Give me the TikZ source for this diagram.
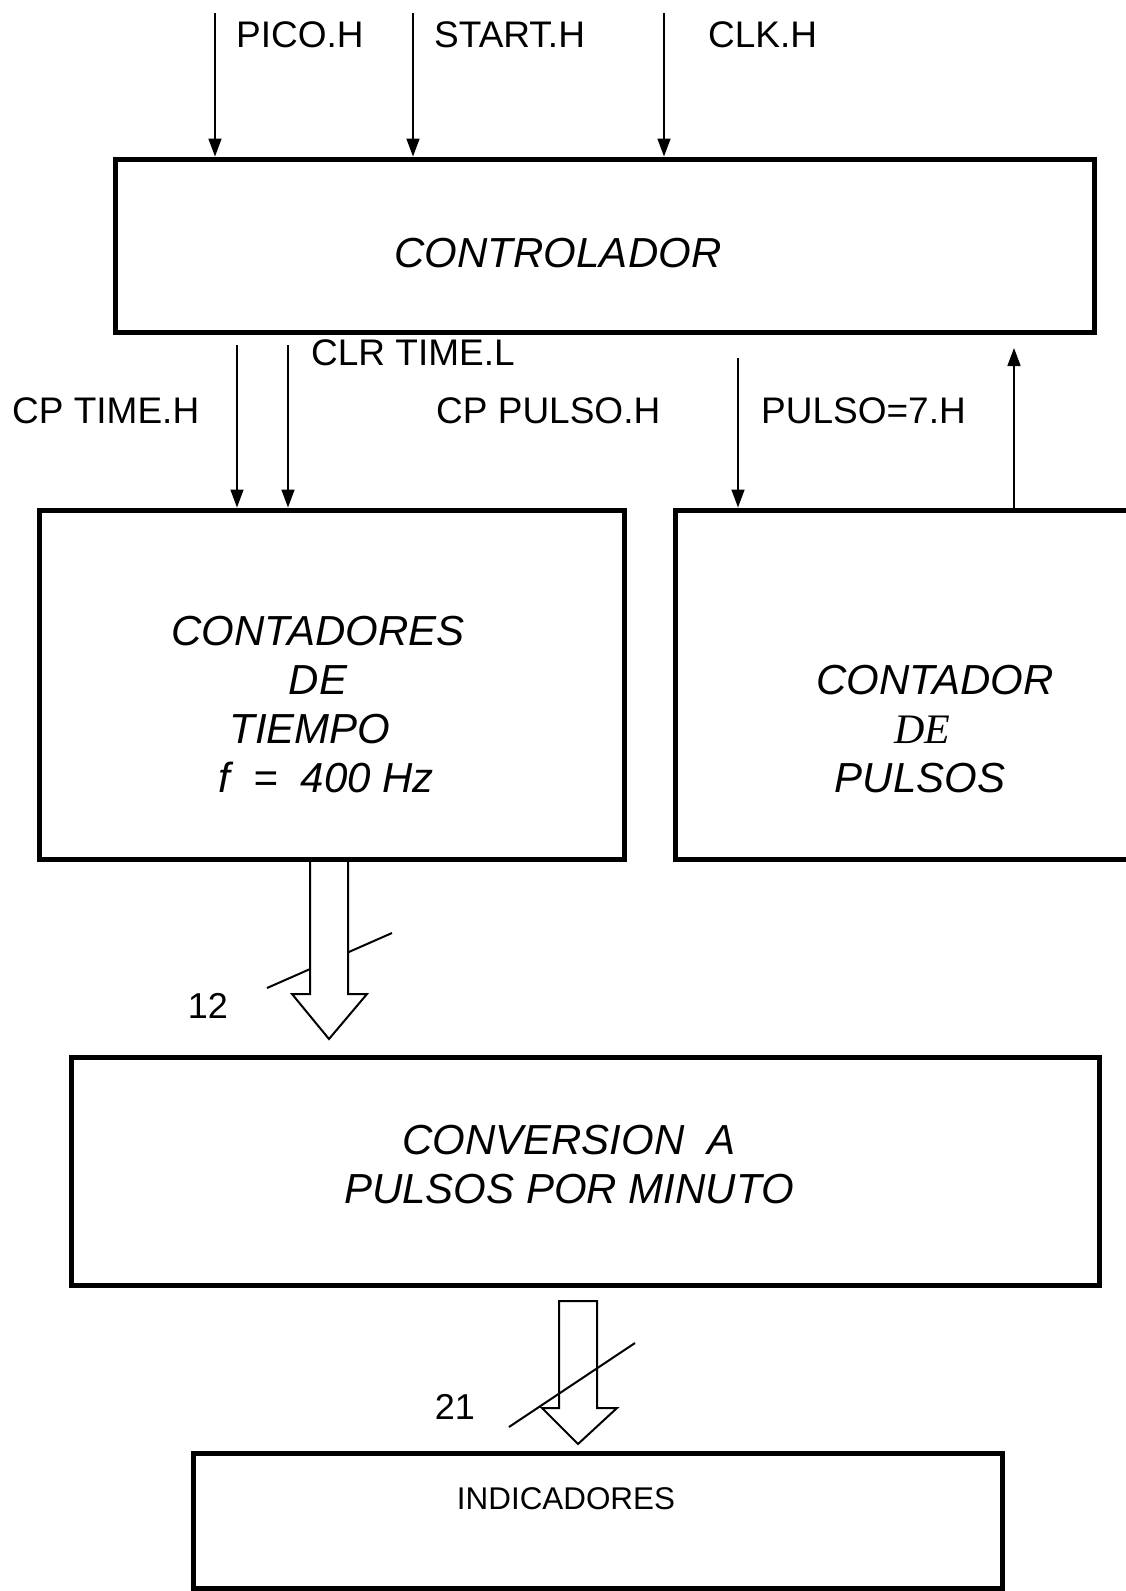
\documentclass[tikz,border=0pt]{standalone}
\usepackage{fontspec}
\setmainfont{Liberation Sans}
\newfontfamily\deserif{Liberation Serif}
\usetikzlibrary{positioning, arrows.meta}
\tikzset{
>={Triangle[length=18pt, width=13pt]}, % filled arrow heads
block/.style={draw, line width=5pt, inner sep=0pt}, % thick boxes
signal/.style={->, line width=1.6pt}, % thin signal lines
sig/.style={font=\fontsize{37}{44}\selectfont, inner sep=0pt, anchor=west}, % signal names
title/.style={font=\fontsize{42}{49}\selectfont\itshape, align=center, inner sep=0pt}, % text in the boxes
bus/.style={draw, fill=white, line width=2pt}, % hollow bus arrows
slash/.style={line width=2pt}, % bus width marks
}

\begin{document}
\begin{tikzpicture}[x=1pt, y=-1pt]
\useasboundingbox (0,0) rectangle (1126,1591);

            % bus arrows first, the boxes go over them
            \draw[slash] (267,988) -- (392,933);
            \draw[bus] (310,861.5) -- ++(0,132.5) -- ++(-18,0) -- ++(37,45) -- ++(38,-45) -- ++(-19,0) -- ++(0,-132.5);
            \draw[bus] (559,1301) -- ++(0,107) -- ++(-17,0) -- ++(36,36) -- ++(39,-36) -- ++(-20,0) -- ++(0,-107) -- cycle;
            \draw[slash] (509,1427) -- (635,1343);

            \node[block, minimum width=979pt, minimum height=173pt] (ctrl) at (604.5,245.5) {};
            \node[block, minimum width=585pt, minimum height=349pt] (tiempo) at (331.5,684.5) {};
            \node[block, minimum width=465pt, minimum height=349pt] (pulsos) at (907.5,684.5) {};
            \node[block, minimum width=1028pt, minimum height=228pt] (conv) at (585,1171) {};
            \node[block, minimum width=809pt, minimum height=135pt] (ind) at (597.5,1520.5) {};

            \node[title] (ctrltxt) at (558,253) {CONTROLADOR};
            \node[title] (tiempotxt) at (318,705) {CONTADORES\\DE\\\hspace*{-16pt}TIEMPO\\\hspace*{16pt}f~~=~~400 Hz};
            \node[title] (pulsostxt) at (935,729.5) {CONTADOR\\\hspace*{-26pt}{\deserif\itshape DE}\\\hspace*{-30pt}PULSOS};
            \node[title] (convtxt) at (569,1164.5) {CONVERSION~~A\\PULSOS POR MINUTO};
            \node[inner sep=0pt, font=\fontsize{31.4}{38}\selectfont] (indtxt) at (566,1499) {INDICADORES};

            % inputs of the controller
            \coordinate (pico) at (215,13);
            \coordinate (start) at (413,13);
            \coordinate (clk) at (664,13);
            \draw[signal] (pico) -- (pico |- ctrl.north);
            \draw[signal] (start) -- (start |- ctrl.north);
            \draw[signal] (clk) -- (clk |- ctrl.north);
            \node[sig] (picolbl) at (236,35) {PICO.H};
            \node[sig] (startlbl) at (434,35) {START.H};
            \node[sig] (clklbl) at (708,35) {CLK.H};

            % outputs of the controller
            \coordinate (cptime) at (237,345);
            \coordinate (clrtime) at (288,345);
            \coordinate (cppulso) at (738,358);
            \coordinate (pulso7) at (1014,348);
            \draw[signal] (cptime) -- (cptime |- tiempo.north);
            \draw[signal] (clrtime) -- (clrtime |- tiempo.north);
            \draw[signal] (cppulso) -- (cppulso |- pulsos.north);
            \draw[signal] (pulso7 |- pulsos.north) -- (pulso7);
            \node[sig] (cptimelbl) at (12,411) {CP TIME.H};
            \node[sig] (clrtimelbl) at (311,353) {CLR TIME.L};
            \node[sig] (cppulsolbl) at (436,411) {CP PULSO.H};
            \node[sig] (pulso7lbl) at (761,411) {PULSO=7.H};

            \node[inner sep=0pt, font=\fontsize{36}{43}\selectfont] (n12) at (208,1006) {12};
            \node[inner sep=0pt, font=\fontsize{36}{43}\selectfont] (n21) at (455,1407) {21};
\end{tikzpicture}
\end{document}
